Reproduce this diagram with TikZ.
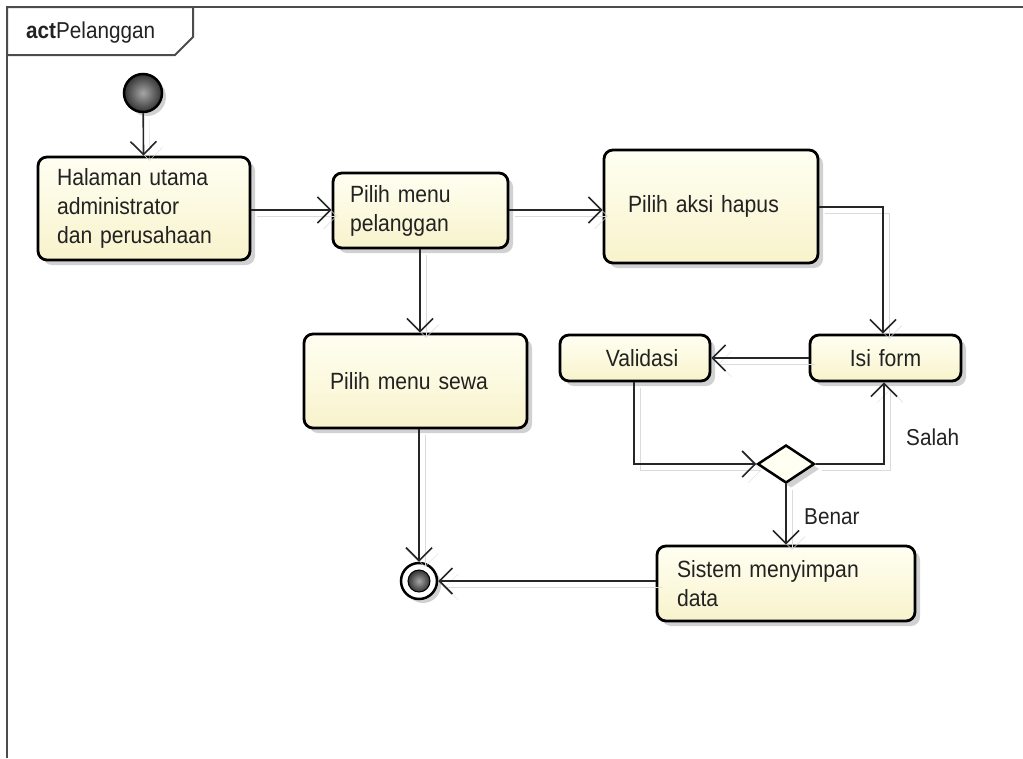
\documentclass[tikz,border=0pt]{standalone}
\usepackage{fontspec}
\setmainfont[FakeStretch=0.9]{Liberation Sans}
\usetikzlibrary{arrows.meta,shadows,shapes.geometric}
\definecolor{nodefillA}{HTML}{FFFFF2}
\definecolor{nodefillB}{HTML}{F8F3CC}
\definecolor{txt}{HTML}{222222}
\tikzset{
  actbox/.style={draw=black, line width=2.8pt, rounded corners=9pt,
    top color=nodefillA, bottom color=nodefillB,
    drop shadow={shadow xshift=5pt, shadow yshift=-5pt, fill=black!18, opacity=1},
    font=\fontsize{23.5}{29}\selectfont, text=txt, inner ysep=0pt, anchor=center},
  flow/.style={draw=black!85, line width=1.6pt,
    -{Straight Barb[length=13pt,width=26pt,line width=1.6pt]},
    preaction={draw=black!14, transform canvas={shift={(6pt,-6pt)}}}},
  lbl/.style={font=\fontsize{23}{26}\selectfont, text=txt, inner sep=0pt},
  framel/.style={draw=black!70, line width=2pt}
}
\begin{document}
\begin{tikzpicture}[x=1pt,y=-1pt]
\useasboundingbox (0,0) rectangle (1023,758);
% frame
\draw[framel] (7,758) -- (7,7) -- (1023,7);
\draw[framel, fill=white] (7,7) -- (193,7) -- (193,37) -- (175,55) -- (7,55) -- cycle;
\node[anchor=west, font=\fontsize{23}{26}\selectfont, inner sep=0pt, text=txt] (title) at (26,33) {\textbf{act}Pelanggan};

% start
\node[circle, draw=black, line width=2.5pt, minimum size=38pt, inner sep=0pt,
  inner color=black!35, outer color=black!80,
  drop shadow={shadow xshift=4pt, shadow yshift=-4pt, fill=black!18, opacity=1}] (start) at (143,93) {};

% activities
\node[actbox, minimum height=103pt, inner xsep=19pt, text width=174pt, align=left] (halaman) at (144,208.5) {Halaman utama\\administrator\\dan perusahaan};
\node[actbox, minimum height=75pt, inner xsep=17pt, text width=141pt, align=left] (pelanggan) at (420.5,210.5) {Pilih menu\\pelanggan};
\node[actbox, minimum height=113pt, inner xsep=24pt, text width=166pt, align=left] (hapus) at (711,206.5) {Pilih aksi hapus};
\node[actbox, minimum height=94pt, inner xsep=26pt, text width=171pt, align=left] (sewa) at (415.5,381) {Pilih menu sewa};
\node[actbox, minimum height=46pt, inner xsep=0pt, text width=150pt, align=center] (validasi) at (635,358) {\hspace*{14pt}Validasi};
\node[actbox, minimum height=46pt, inner xsep=0pt, text width=151pt, align=center] (isiform) at (885.5,358) {Isi form};
\node[actbox, minimum height=75pt, inner xsep=20pt, text width=218pt, align=left] (simpan) at (786,583.5) {Sistem menyimpan\\data};

% decision
\node[diamond, draw=black, line width=2.5pt, fill=nodefillA, minimum width=57pt, minimum height=38pt, inner sep=0pt,
  drop shadow={shadow xshift=5pt, shadow yshift=-5pt, fill=black!18, opacity=1}] (dec) at (786,464) {};

% end
\node[circle, draw=black, line width=2.5pt, minimum size=36pt, inner sep=0pt, fill=white,
  drop shadow={shadow xshift=4pt, shadow yshift=-4pt, fill=black!18, opacity=1}] (end) at (419,581) {};
\node[circle, draw=black, line width=1pt, minimum size=22pt, inner sep=0pt,
  inner color=black!35, outer color=black!80] (endin) at (419,581) {};

% connectors
\draw[flow] (start) -- (halaman);
\draw[flow] (halaman.east |- 0,210) -- (pelanggan.west |- 0,210);
\draw[flow] (pelanggan.east |- 0,210) -- (hapus.west |- 0,210);
\draw[flow] (pelanggan.south -| 420,0) -- (sewa.north -| 420,0);
\draw[flow] (hapus.east |- 0,207) -| (isiform.north -| 883,0);
\draw[flow] (isiform.west) -- (validasi.east);
\draw[flow] (validasi.south -| 634,0) |- (dec.west);
\draw[flow] (dec.east) -| (isiform.south -| 884,0);
\draw[flow] (dec.south) -- (simpan.north -| 786,0);
\draw[flow] (sewa.south -| 419,0) -- (end.north);
\draw[flow] (simpan.west |- 0,581) -- (end.east);

% guard labels
\node[lbl, anchor=west] (salah) at (906,437) {Salah};
\node[lbl, anchor=west] (benar) at (804,517) {Benar};
\end{tikzpicture}
\end{document}
